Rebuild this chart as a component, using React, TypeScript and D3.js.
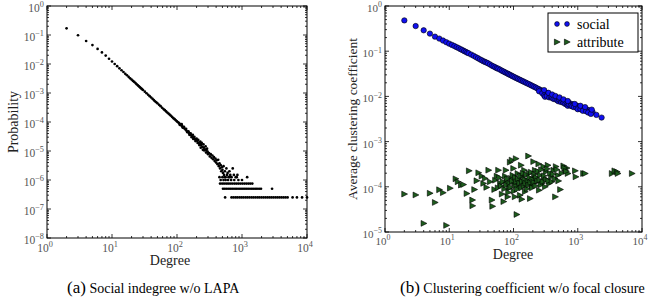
import React from 'react';
import * as d3 from 'd3';

const W = 671;
const H = 305;

// (a) social indegree distribution, [degree, probability]
const indegreeMain: [number, number][] = [
  [2, 1.7e-1], [3, 9.8e-2], [4, 6.2e-2], [5, 4.5e-2], [6, 3.3e-2], [7, 2.5e-2], [8, 1.95e-2],
  [9, 1.52e-2], [10, 1.22e-2], [11, 1.0e-2], [12, 8.4e-3], [13, 7.1e-3], [14, 6.1e-3], [15, 5.3e-3],
  [16, 4.6e-3], [17, 4.1e-3], [18, 3.6e-3], [19, 3.2e-3], [20, 2.9e-3], [21, 2.6e-3], [22, 2.4e-3],
  [23, 2.2e-3], [24, 2.0e-3], [25, 1.84e-3], [26, 1.7e-3], [27, 1.57e-3], [28, 1.46e-3], [29, 1.36e-3],
  [30, 1.27e-3], [32, 1.11e-3], [34, 9.8e-4], [36, 8.7e-4], [38, 7.8e-4], [40, 7.0e-4], [42, 6.3e-4],
  [44, 5.7e-4], [46, 5.2e-4], [48, 4.8e-4], [50, 4.4e-4], [53, 3.9e-4], [56, 3.5e-4], [59, 3.1e-4],
  [62, 2.8e-4], [65, 2.55e-4], [68, 2.32e-4], [71, 2.12e-4], [74, 1.95e-4], [77, 1.8e-4], [80, 1.66e-4],
  [84, 1.5e-4], [88, 1.36e-4], [92, 1.25e-4], [96, 1.14e-4], [100, 1.05e-4], [104, 9.8e-5], [108, 9.1e-5],
  [112, 8.3e-5], [116, 7.8e-5], [120, 7.2e-5], [125, 6.5e-5], [130, 6.0e-5], [135, 5.5e-5], [140, 5.0e-5],
  [146, 4.6e-5], [152, 4.2e-5], [158, 3.9e-5], [165, 3.5e-5], [172, 3.2e-5], [180, 2.9e-5], [188, 2.6e-5],
  [196, 2.4e-5], [205, 2.2e-5], [215, 1.9e-5], [225, 1.8e-5], [235, 1.6e-5], [246, 1.4e-5], [258, 1.3e-5],
  [270, 1.15e-5], [283, 1.05e-5], [296, 9.5e-6],
];

const indegreeScatter: [number, number][] = [
  [110, 8.0e-5], [118, 8.4e-5], [122, 6.4e-5], [128, 6.8e-5], [138, 5.8e-5], [143, 4.5e-5], [150, 4.8e-5],
  [155, 3.6e-5], [162, 4.1e-5], [168, 3.0e-5], [175, 3.6e-5], [178, 2.6e-5], [185, 3.1e-5], [192, 2.2e-5],
  [200, 2.7e-5], [208, 1.9e-5], [212, 2.4e-5], [220, 1.6e-5], [228, 2.1e-5], [232, 1.3e-5], [240, 1.9e-5],
  [250, 1.1e-5], [255, 1.7e-5], [262, 1.05e-5], [275, 1.45e-5], [280, 8.8e-6], [290, 1.2e-5], [300, 7.8e-6],
  [310, 8.5e-6], [320, 6.5e-6], [330, 7.8e-6], [340, 5.8e-6], [350, 7.0e-6], [360, 5.2e-6], [370, 6.2e-6],
  [380, 4.5e-6], [390, 5.5e-6], [400, 4.0e-6], [410, 4.8e-6], [420, 3.5e-6], [430, 5.0e-6], [440, 3.0e-6],
  [450, 3.75e-6], [460, 2.5e-6], [470, 3.25e-6], [480, 2.0e-6], [490, 2.75e-6], [500, 2.25e-6], [510, 1.75e-6],
  [520, 3.0e-6], [530, 1.5e-6], [545, 2.0e-6], [560, 1.25e-6], [575, 2.5e-6], [590, 1.5e-6], [600, 1.75e-6],
  [620, 1.25e-6], [640, 2.0e-6], [660, 1.5e-6], [690, 1.25e-6], [720, 2.5e-6], [750, 1.5e-6], [800, 1.25e-6],
  [850, 1.5e-6], [450, 1.25e-6], [500, 1.25e-6], [540, 1.25e-6], [650, 1.25e-6], [830, 1.25e-6], [1200, 1.25e-6],
];

// the count floor at 1, 2, 3, 4 nodes
const floorLevels = [2.5e-7, 5e-7, 7.5e-7, 1e-6];
const floorDegrees: number[][] = [
  [550, 690, 740, 795, 850, 915, 980, 1050, 1130, 1210, 1300, 1400, 1500, 1610, 1730, 1850, 1990, 2140,
    2300, 2470, 2650, 2840, 3050, 3280, 3520, 3780, 4060, 4360, 4680, 5030, 6000, 7000, 8400, 10000],
  [510, 545, 585, 630, 675, 725, 780, 835, 900, 965, 1035, 1110, 1190, 1280, 1380, 1480, 1590, 1700, 1830,
    1960, 2900],
  [460, 495, 530, 570, 610, 655, 705, 760, 815, 875, 940, 1010, 1085, 1165, 1250, 1340, 1440],
  [470, 520, 560, 610, 680, 760, 880, 1000],
];

// (b) average clustering coefficient, [degree, coefficient]
const socialClustering: [number, number][] = [
  [2, 0.48], [3, 0.36], [4, 0.29], [5, 0.245], [6, 0.21], [7, 0.19], [8, 0.172], [9, 0.158], [10, 0.147],
  [11, 0.138], [12, 0.13], [13, 0.123], [14, 0.117], [15, 0.111], [16, 0.106], [17, 0.101], [18, 0.097],
  [19, 0.093], [20, 0.09], [22, 0.084], [24, 0.079], [26, 0.074], [28, 0.07], [30, 0.066], [32, 0.063],
  [34, 0.06], [36, 0.058], [38, 0.056], [40, 0.054], [43, 0.051], [46, 0.048], [49, 0.046], [52, 0.044],
  [55, 0.042], [58, 0.041], [62, 0.039], [66, 0.037], [70, 0.0355], [74, 0.034], [78, 0.0328], [82, 0.0316],
  [86, 0.0305], [90, 0.0295], [95, 0.0284], [100, 0.0273], [106, 0.0262], [112, 0.0252], [118, 0.0243],
  [125, 0.0234], [132, 0.0225], [140, 0.0216], [148, 0.0208], [157, 0.02], [166, 0.0192], [176, 0.0185],
  [187, 0.0177], [198, 0.017], [210, 0.0163], [222, 0.0157], [235, 0.015], [250, 0.0144], [265, 0.0138],
  [280, 0.0132], [297, 0.0127], [315, 0.0122], [334, 0.0117], [354, 0.0112], [375, 0.0108], [397, 0.0104],
  [420, 0.01], [445, 0.0096], [472, 0.0093], [500, 0.009], [530, 0.0087], [560, 0.0084], [595, 0.0081],
  [630, 0.0078], [670, 0.0075], [710, 0.0073], [750, 0.007], [800, 0.0068], [850, 0.0066], [900, 0.0064],
  [960, 0.0062], [1020, 0.006], [1080, 0.0058], [1150, 0.0056], [1220, 0.0055], [1300, 0.0053],
  [1400, 0.0051], [1500, 0.0049], [1600, 0.0046], [1700, 0.0045], [1950, 0.0039], [2350, 0.0034],
  [250, 0.013], [280, 0.0118], [300, 0.0105], [310, 0.0098], [330, 0.0102], [360, 0.0095], [380, 0.0098],
  [400, 0.0092], [420, 0.0088], [450, 0.0086], [480, 0.0082], [500, 0.0078], [520, 0.0083], [550, 0.0075],
  [580, 0.0078], [600, 0.0072], [640, 0.0068], [680, 0.0066], [700, 0.0062], [730, 0.0066], [780, 0.0062],
  [820, 0.006], [870, 0.0058], [950, 0.0056], [1000, 0.0052], [1100, 0.0052], [1200, 0.0048], [1350, 0.0047],
  [1450, 0.0044], [1600, 0.0041], [1650, 0.0051], [300, 0.0138], [350, 0.012], [400, 0.011], [450, 0.0102],
  [520, 0.0095], [600, 0.0086], [700, 0.0079], [900, 0.0068], [1100, 0.0062], [1300, 0.0058],
];

const attributeClustering: [number, number][] = [
  [2, 6.9e-5], [3, 6.6e-5], [4, 1.55e-5], [5, 7.2e-5], [6, 4.5e-5], [7, 8.6e-5], [8, 7.4e-5], [9, 1.4e-5],
  [10.3, 9.3e-5], [12.6, 1.5e-4], [13.6, 1.29e-4], [15.3, 1.09e-4], [16.6, 1.12e-4], [18.7, 7.1e-5],
  [20.3, 2.26e-4], [22.9, 5.1e-5], [23, 3.8e-5], [24.6, 8.7e-5], [26.7, 1.36e-4], [28.5, 2.04e-4],
  [32, 1.72e-4], [34, 1.19e-4], [36, 1.53e-4], [38, 9.7e-5], [40.8, 2.33e-4], [43, 1.29e-4], [46, 5.1e-5],
  [47, 3.7e-5], [50.5, 8.7e-5], [55, 1.72e-4], [58, 2.33e-4], [62, 1.19e-4], [66, 6.9e-5], [70, 4.7e-5],
  [74, 1.72e-4], [76, 2.33e-4], [78, 1.29e-4], [81, 6.0e-5], [85, 9.2e-5], [88, 3.5e-4], [92, 1.53e-4],
  [94, 3.9e-4], [99.5, 2.55e-4], [103, 1.19e-4], [105, 6.0e-5], [109, 4.2e-4], [112, 2.44e-5], [116, 1.97e-4],
  [120, 1.0e-4], [122, 1.45e-4], [126, 6.5e-5], [131, 3.0e-4], [134, 5.3e-5], [137, 1.72e-4], [142, 1.19e-4],
  [147, 2.33e-4], [151, 7.8e-5], [161, 1.4e-4], [170, 4.8e-4], [174, 1.97e-4], [181, 5.5e-5], [192, 1.09e-4],
  [204, 3.6e-4], [211, 1.66e-4], [216, 2.33e-4], [230, 1.29e-4], [245, 3.2e-4], [250, 8.4e-5], [259, 1.8e-4],
  [275, 1.19e-4], [292, 2.8e-4], [303, 1.53e-4], [318, 2.15e-4], [342, 3.0e-4], [360, 1.19e-4], [386, 1.66e-4],
  [420, 2.33e-4], [446, 6.0e-5], [457, 2.8e-4], [491, 1.8e-4], [534, 8.7e-5], [600, 2.9e-4], [637, 2.33e-4],
  [676, 2.6e-4], [700, 1.97e-4], [910, 2.26e-4], [930, 1.66e-4], [1220, 1.97e-4], [1300, 1.97e-4],
  [3400, 1.97e-4], [3740, 2.26e-4], [4070, 2.15e-4], [4200, 1.97e-4], [6980, 1.97e-4],
  [52, 1.4e-4], [57, 9.5e-5], [60, 1.6e-4], [64, 1.05e-4], [68, 1.3e-4], [72, 9e-5], [77, 1.1e-4], [80, 1.5e-4],
  [83, 7.5e-5], [87, 1.2e-4], [90, 9.8e-5], [95, 1.35e-4], [97, 1.8e-4], [101, 8e-5], [106, 1.6e-4],
  [108, 1.05e-4], [111, 1.3e-4], [114, 8.8e-5], [118, 1.5e-4], [124, 1.2e-4], [128, 1.75e-4], [133, 9.5e-5],
  [136, 1.3e-4], [140, 2e-4], [145, 1.05e-4], [149, 1.45e-4], [154, 1.2e-4], [158, 1.85e-4], [163, 9e-5],
  [167, 1.35e-4], [172, 1.1e-4], [177, 1.6e-4], [184, 1.25e-4], [188, 2.1e-4], [195, 9.5e-5], [198, 1.45e-4],
  [207, 1.25e-4], [213, 1.9e-4], [220, 1.05e-4], [226, 1.6e-4], [236, 1.35e-4], [240, 2.2e-4], [255, 1.4e-4],
  [265, 1.1e-4], [270, 2.4e-4], [285, 1.3e-4], [298, 1.75e-4], [310, 1e-4], [325, 1.45e-4], [335, 2.5e-4],
  [350, 1.35e-4], [370, 2e-4], [395, 1.3e-4], [410, 1.9e-4], [440, 1.5e-4], [470, 2.4e-4], [500, 1.35e-4],
  [560, 2e-4], [620, 2.6e-4], [660, 2.2e-4],
];

const xExps = [0, 1, 2, 3, 4];
const yExpsA = [0, -1, -2, -3, -4, -5, -6, -7, -8];
const yExpsB = [0, -1, -2, -3, -4, -5];

const SERIF = "'Liberation Serif', 'DejaVu Serif', serif";
const TICK_COLOR = '#555';

const fmt = (e: number) => (e < 0 ? '\u2212' + Math.abs(e) : String(e));

const Pow10 = ({ x, y, exp, anchor, size }: { x: number; y: number; exp: number; anchor: string; size: number }) => (
  <text x={x} y={y} textAnchor={anchor} fill={TICK_COLOR} style={{ fontFamily: SERIF, fontSize: size }}>
    10<tspan dy={-size * 0.42} style={{ fontSize: size * 0.72 }}>{fmt(exp)}</tspan>
  </text>
);

interface AxesProps {
  x0: number; x1: number; y0: number; y1: number;
  yExps: number[];
  labelSize: number;
  xLabelGap: number;
  children: (x: d3.ScaleLogarithmic<number, number>, y: d3.ScaleLogarithmic<number, number>) => React.ReactNode;
}

const LogAxes = ({ x0, x1, y0, y1, yExps, labelSize, xLabelGap, children }: AxesProps) => {
  const x = d3.scaleLog().domain([1, 1e4]).range([x0, x1]);
  const yMin = Math.pow(10, d3.min(yExps) as number);
  const yMax = Math.pow(10, d3.max(yExps) as number);
  const y = d3.scaleLog().domain([yMin, yMax]).range([y1, y0]);
  const isMajor = (v: number) => Math.abs(Math.log10(v) - Math.round(Math.log10(v))) < 1e-9;
  const xt = x.ticks();
  const yt = y.ticks();
  const tick = (v: number) => (isMajor(v) ? 4 : 2);
  return (
    <g>
      {children(x, y)}
      <rect x={x0} y={y0} width={x1 - x0} height={y1 - y0} fill="none" stroke="#000" strokeWidth={1} />
      {xt.map((v, i) => (
        <g key={'x' + i} stroke="#000" strokeWidth={0.8}>
          <line x1={x(v)} x2={x(v)} y1={y1} y2={y1 - tick(v)} />
          <line x1={x(v)} x2={x(v)} y1={y0} y2={y0 + tick(v)} />
        </g>
      ))}
      {yt.map((v, i) => (
        <g key={'y' + i} stroke="#000" strokeWidth={0.8}>
          <line x1={x0} x2={x0 + tick(v)} y1={y(v)} y2={y(v)} />
          <line x1={x1} x2={x1 - tick(v)} y1={y(v)} y2={y(v)} />
        </g>
      ))}
      {xExps.map((e) => (
        <Pow10 key={'xl' + e} x={x(Math.pow(10, e)) - 2} y={y1 + xLabelGap} exp={e} anchor="middle" size={labelSize} />
      ))}
      {yExps.map((e) => (
        <Pow10 key={'yl' + e} x={x0 - 3} y={y(Math.pow(10, e)) + 6} exp={e} anchor="end" size={labelSize} />
      ))}
    </g>
  );
};

const triangle = 'M-2.6,-2.9L3.2,0L-2.6,2.9Z';
const labelStyle = (size: number) => ({ fontFamily: SERIF, fontSize: size });

export default function App() {
  return (
    <svg width={W} height={H} style={{ position: 'absolute', left: 0, top: 0, background: '#fff' }}>
      <rect width={W} height={H} fill="#fff" />
      {/* (a) */}
      <LogAxes x0={47} x1={307} y0={6} y1={238} yExps={yExpsA} labelSize={11.5} xLabelGap={14}>
        {(x, y) => (
          <g fill="#000">
            {indegreeMain.concat(indegreeScatter).map(([k, p], i) => (
              <circle key={'m' + i} cx={x(k)} cy={y(p)} r={1.35} />
            ))}
            {floorDegrees.map((row, j) =>
              row.map((k, i) => <circle key={'f' + j + '-' + i} cx={x(k)} cy={y(floorLevels[j])} r={1.35} />)
            )}
          </g>
        )}
      </LogAxes>
      <text transform="translate(18,122) rotate(-90)" textAnchor="middle" fill="#222" style={labelStyle(14)}>
        Probability
      </text>
      <text x={170} y={265} textAnchor="middle" fill="#222" style={labelStyle(14)}>Degree</text>

      {/* (b) */}
      <LogAxes x0={385} x1={642} y0={6} y1={232} yExps={yExpsB} labelSize={11} xLabelGap={13}>
        {(x, y) => (
          <g>
            {socialClustering.map(([k, c], i) => (
              <circle key={'s' + i} cx={x(k)} cy={y(c)} r={2.7} fill="#1010f0" stroke="#000" strokeWidth={0.6} />
            ))}
            {attributeClustering.map(([k, c], i) => (
              <path key={'a' + i} d={triangle} transform={`translate(${x(k)},${y(c)})`} fill="#1d5c1d" stroke="#000" strokeWidth={0.6} />
            ))}
          </g>
        )}
      </LogAxes>
      <text transform="translate(357,119) rotate(-90)" textAnchor="middle" fill="#222" style={labelStyle(13.5)}>
        Average clustering coefficient
      </text>
      <text x={513} y={259} textAnchor="middle" fill="#222" style={labelStyle(14)}>Degree</text>

      {/* legend */}
      <g>
        <rect x={548} y={13} width={90} height={39} fill="#fff" stroke="#000" strokeWidth={1} />
        {[557, 567].map((lx) => (
          <circle key={'ls' + lx} cx={lx} cy={24} r={2.4} fill="#1010f0" stroke="#000" strokeWidth={0.6} />
        ))}
        {[557, 567].map((lx) => (
          <path key={'la' + lx} d={triangle} transform={`translate(${lx},${42})`} fill="#1d5c1d" stroke="#000" strokeWidth={0.6} />
        ))}
        <text x={577} y={28.5} fill="#000" style={labelStyle(14)}>social</text>
        <text x={577} y={46.5} fill="#000" style={labelStyle(14)}>attribute</text>
      </g>

      {/* captions */}
      <text x={67} y={293} fill="#000" style={labelStyle(14)}>
        <tspan style={{ fontSize: 17 }}>(a)</tspan> Social indegree w/o LAPA
      </text>
      <text x={400} y={293} fill="#000" style={labelStyle(14)}>
        <tspan style={{ fontSize: 17 }}>(b)</tspan> Clustering coefficient w/o focal closure
      </text>
    </svg>
  );
}
